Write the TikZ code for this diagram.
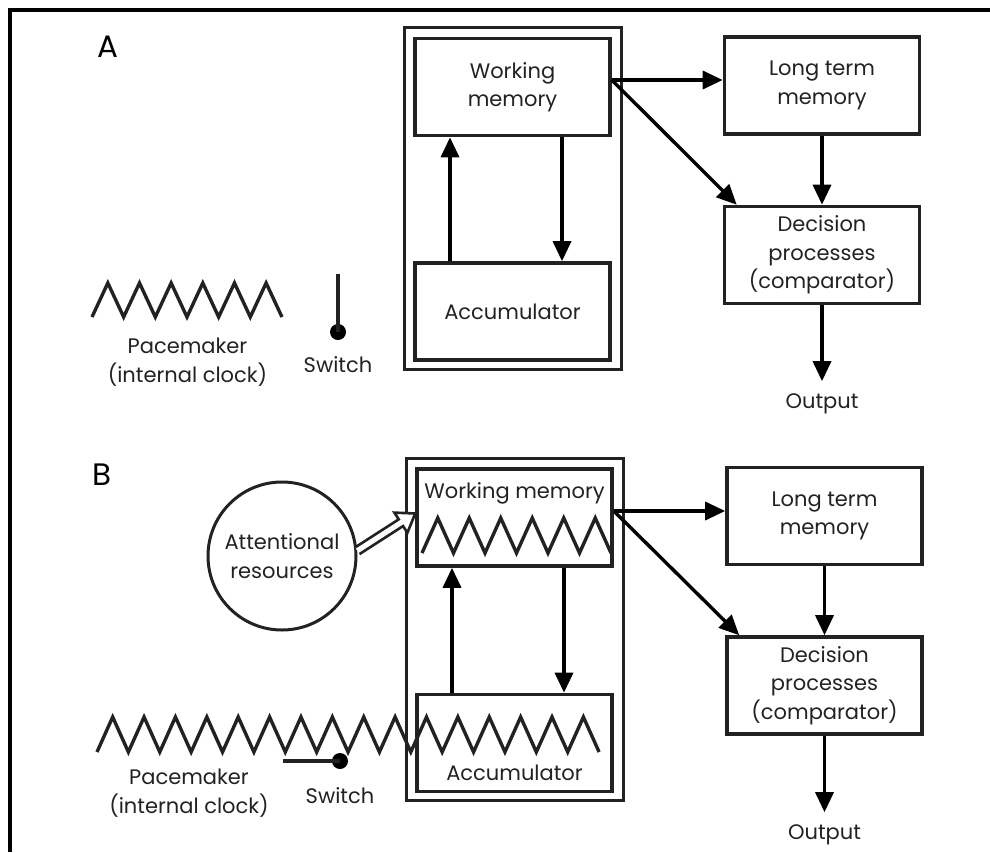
\documentclass[tikz,border=0pt]{standalone}
\usepackage{fontspec}
\setmainfont{Poppins}
\usetikzlibrary{arrows.meta,calc}
\definecolor{ink}{HTML}{222222}
\newcommand\diagfont{\fontsize{21}{28.5}\selectfont}
\newcommand\panelfont{\fontsize{31}{33}\selectfont}
\begin{document}
\begin{tikzpicture}[x=1pt,y=-1pt,
 every node/.style={font=\diagfont, text=ink},
 box/.style={draw=ink, line width=3.6pt, inner sep=0pt, minimum width=195pt, minimum height=97pt, align=center},
 cont/.style={draw=ink, line width=3pt, inner sep=0pt, minimum width=217pt, minimum height=342pt},
 arr/.style={draw=black, line width=3.4pt, -{Triangle[length=20pt,width=18pt]}},
 zig/.style={draw=ink, line width=3.4pt, line join=miter},
 swline/.style={draw=ink, line width=3.4pt},
 dot/.style={circle, fill=black, inner sep=0pt, minimum size=16pt},
 lbl/.style={font=\panelfont, text=black, inner sep=0pt},
 txt/.style={inner sep=0pt, align=center},
]
\useasboundingbox (0,0) rectangle (990,852);
\draw[line width=3.4pt, line join=miter] (10,852) -- (10,10) -- (990,10);

% ---------------- Panel A ----------------
\node[lbl, anchor=base] (labA) at (108,57) {A};
\node[cont] (conA) at (512.5,198) {};
\node[box] (wmA) at (512.5,87) {Working\\memory};
\node[box] (accA) at (512.5,311.5) {Accumulator};
\node[box] (ltmA) at (822,85.5) {Long term\\memory};
\node[box] (decA) at (822,255) {Decision\\processes\\(comparator)};
\node[txt, anchor=base, outer ysep=12pt] (outA) at (822,408) {Output};
\coordinate (wmAo) at ([yshift=7pt]wmA.east);
\draw[arr] (wmAo) -- (wmAo -| ltmA.west);
\draw[arr] (wmAo) -- ([xshift=14pt]decA.north west);
\draw[arr] ([xshift=-62.5pt]accA.north) -- ([xshift=-62.5pt]wmA.south);
\draw[arr] ([xshift=49.5pt]wmA.south) -- ([xshift=49.5pt]accA.north);
\draw[arr] (ltmA.south) -- (decA.north);
\draw[arr] (decA.south) -- (outA.north);

\draw[zig] (92,317) \foreach \i in {1,...,6}{ -- ++(15.83,-34) -- ++(15.83,34)};
\node[txt] (pmA) at (187.5,362) {Pacemaker\\(internal clock)};
\node[dot] (swA) at (338,332) {};
\coordinate (swAt) at (338,274);
\draw[swline] (swA.center) -- (swAt);
\node[txt, anchor=base] (swAl) at (338,372) {Switch};

% ---------------- Panel B ----------------
\node[lbl, anchor=base] (labB) at (102.5,485) {B};
\node[cont] (conB) at (514.5,629) {};
\node[box] (wmB) at (514.5,517.5) {};
\node[txt, anchor=base] (wmBt) at (514.5,498) {Working memory};
\node[box] (accB) at (514.5,743) {};
\node[txt, anchor=base] (accBt) at (514.5,780) {Accumulator};
\node[box] (ltmB) at (824.5,516) {Long term\\memory};
\node[box] (decB) at (824.5,685.5) {Decision\\processes\\(comparator)};
\node[txt, anchor=base, outer ysep=12pt] (outB) at (824.5,839) {Output};
\coordinate (wmBo) at ([yshift=6.5pt]wmB.east);
\draw[arr] (wmBo) -- (wmBo -| ltmB.west);
\draw[arr] (wmBo) -- ([xshift=14pt]decB.north west);
\draw[arr] ([xshift=-62.5pt]accB.north) -- ([xshift=-62.5pt]wmB.south);
\draw[arr] ([xshift=49.5pt]wmB.south) -- ([xshift=49.5pt]accB.north);
\draw[arr] (ltmB.south) -- (decB.north);
\draw[arr] (decB.south) -- (outB.north);

\draw[zig] (422,553) \foreach \i in {1,...,6}{ -- ++(15.75,-35) -- ++(15.75,35)};
\draw[zig] (97,752) \foreach \i in {1,...,16}{ -- ++(15.69,-35) -- ++(15.69,35)};
\node[txt] (pmB) at (189,793) {Pacemaker\\(internal clock)};
\node[dot] (swB) at (340,761) {};
\coordinate (swBt) at (283,761);
\draw[swline] (swB.center) -- (swBt);
\node[txt, anchor=base] (swBl) at (340,803) {Switch};

\node[circle, draw=ink, line width=3pt, minimum size=148pt, inner sep=0pt, align=center] (att) at (282,556) {Attentional\\resources};
\coordinate (hs) at (att.4);
\coordinate (ht) at ([yshift=4pt]wmB.west);
\coordinate (hb) at ($(ht)!17pt!(hs)$);
\filldraw[fill=white, draw=ink, line width=2.6pt, line join=miter]
  ($(hs)!4pt!90:(ht)$) -- ($(hb)!4pt!-90:(hs)$) -- ($(hb)!12pt!-90:(hs)$) -- (ht)
  -- ($(hb)!12pt!90:(hs)$) -- ($(hb)!4pt!90:(hs)$) -- ($(hs)!4pt!-90:(ht)$);
\end{tikzpicture}
\end{document}
